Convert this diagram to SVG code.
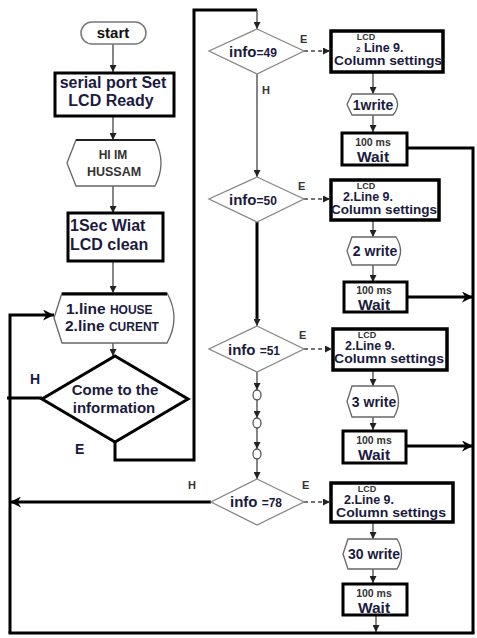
<svg xmlns="http://www.w3.org/2000/svg" width="477" height="638" viewBox="0 0 477 638">
<style>
text{font-family:"Liberation Sans",Arial,sans-serif;font-weight:bold;fill:#1b1b40}
.c{text-anchor:middle}
.sm{fill:#333}
.lcd{font-size:9px;fill:#333;text-anchor:middle}
.ln{font-size:12.5px}
.col{font-size:12.5px;text-anchor:middle}
.ms{font-size:10.5px;fill:#333;text-anchor:middle}
.wt{font-size:15.5px;text-anchor:middle}
.box{fill:#fff;stroke:#000;stroke-width:3}
.lbox{fill:#fff;stroke:#000;stroke-width:3.5}
.disp{fill:#fff;stroke:#666;stroke-width:1.3}
.dia{fill:#fff;stroke:#888;stroke-width:1.3}
.thin{fill:none;stroke:#444;stroke-width:1.3}
.dash{fill:none;stroke:#444;stroke-width:1.3;stroke-dasharray:4 3}
.thick{fill:none;stroke:#000;stroke-width:3}
</style>
<defs>
<marker id="a" viewBox="0 0 10 10" refX="10" refY="5" markerWidth="7" markerHeight="7" markerUnits="userSpaceOnUse" orient="auto"><path d="M0,0 L10,5 L0,10 z" fill="#222"/></marker>
<marker id="ab" viewBox="0 0 10 10" refX="10" refY="5" markerWidth="11" markerHeight="11" markerUnits="userSpaceOnUse" orient="auto"><path d="M0,0 L10,5 L0,10 L3,5 z" fill="#000"/></marker>
</defs>
<rect width="477" height="638" fill="#fff"/>

<g id="connectors">
<path class="thin" d="M113,44 V72" marker-end="url(#a)"/>
<path class="thin" d="M113,116 V140" marker-end="url(#a)"/>
<path class="thin" d="M113,186 V213" marker-end="url(#a)"/>
<path class="thin" d="M113,261 V293" marker-end="url(#a)"/>
<path class="thin" d="M113,343 V356" marker-end="url(#a)"/>
<path class="thick" d="M115,442 V460 H194 V10 H257"/>
<path class="thin" d="M257,10 V29" marker-end="url(#a)"/>
<path class="thin" d="M257,74 V177" marker-end="url(#a)"/>
<path class="thick" d="M257,222 V320"/>
<path class="thin" d="M257,318 V326" marker-end="url(#a)"/>
<path class="thin" d="M257,372 V390" marker-end="url(#a)"/>
<path class="thin" d="M257,400 V418" marker-end="url(#a)"/>
<path class="thin" d="M257,428 V449" marker-end="url(#a)"/>
<path class="thin" d="M257,459 V479" marker-end="url(#a)"/>
<path class="dash" d="M304,51 H330" marker-end="url(#a)"/>
<path class="dash" d="M304,199 H330" marker-end="url(#a)"/>
<path class="dash" d="M304,349 H332" marker-end="url(#a)"/>
<path class="dash" d="M304,502 H330" marker-end="url(#a)"/>
<path class="thin" d="M373,72 V94" marker-end="url(#a)"/>
<path class="thin" d="M373,115 V132" marker-end="url(#a)"/>
<path class="thin" d="M373,220 V237" marker-end="url(#a)"/>
<path class="thin" d="M373,265 V282" marker-end="url(#a)"/>
<path class="thin" d="M373,370 V386" marker-end="url(#a)"/>
<path class="thin" d="M373,417 V430" marker-end="url(#a)"/>
<path class="thin" d="M373,522 V539" marker-end="url(#a)"/>
<path class="thin" d="M373,569 V583" marker-end="url(#a)"/>
<path class="thin" d="M376,615 V632" marker-end="url(#a)"/>
<path class="thick" d="M42,398 H7"/>
<path class="thick" d="M10,633 V315 H54" marker-end="url(#ab)"/>
<path class="thick" d="M8.5,633 H474.5"/>
<path class="thick" d="M407,148 H473 V633"/>
<path class="thick" d="M407,297 H473" marker-end="url(#ab)"/>
<path class="thick" d="M406,446 H473" marker-end="url(#ab)"/>
<path class="thick" d="M211,502 H10" marker-end="url(#ab)"/>
</g>

<g id="start">
<rect x="81" y="22" width="65" height="22" rx="11" fill="#fff" stroke="#777" stroke-width="1.5"/>
<text class="c" x="113" y="38" font-size="15" style="fill:#111">start</text>
</g>

<g id="serial">
<rect class="box" x="55" y="73" width="119" height="43"/>
<text class="c" x="113" y="88" font-size="16">serial port Set</text>
<text class="c" x="111" y="106" font-size="16">LCD Ready</text>
</g>

<g id="hiim">
<path class="disp" d="M76,140 H155 Q167,163 155,186 H76 L67,163 Z"/>
<path d="M76,140 H155" stroke="#222" stroke-width="1.8"/>
<text class="c sm" x="113" y="159" font-size="12">HI IM</text>
<text class="c sm" x="114" y="176" font-size="12.5">HUSSAM</text>
</g>

<g id="wiat">
<rect class="box" x="68" y="213" width="95" height="48"/>
<text x="70" y="231" font-size="16">1Sec Wiat</text>
<text x="70" y="250" font-size="16">LCD clean</text>
</g>

<g id="lines">
<path class="disp" d="M62,293 H167 Q181,318 167,343 H62 L54,318 Z"/>
<path d="M62,294 H167" stroke="#000" stroke-width="3"/>
<text x="66" y="314" font-size="15.5">1.line <tspan font-size="12">HOUSE</tspan></text>
<text x="65" y="331" font-size="15.5">2.line <tspan font-size="12">CURENT</tspan></text>
</g>

<g id="come">
<path d="M115,356 L188,399 L115,442 L42,399 Z" fill="#fff" stroke="#000" stroke-width="3"/>
<text class="c" x="115" y="395" font-size="15">Come to the</text>
<text class="c" x="114" y="413" font-size="15">information</text>
<text x="30" y="384" font-size="14">H</text>
<text x="75" y="454" font-size="14">E</text>
</g>

<g id="info49">
<path class="dia" d="M257,29 L304,51 L257,74 L209,51 Z"/>
<text x="229" y="57" font-size="15">info<tspan font-size="12">=49</tspan></text>
<text class="sm" x="300" y="43" font-size="11">E</text>
<text class="sm" x="262" y="94" font-size="11">H</text>
</g>
<g id="lcd1">
<rect class="lbox" x="331" y="31" width="112" height="41"/>
<text class="lcd" x="366" y="39.5">LCD</text>
<text class="ln" x="356" y="52"><tspan font-size="8">2</tspan> Line 9.</text>
<text class="col" x="388" y="65" textLength="108" lengthAdjust="spacingAndGlyphs">Column settings</text>
</g>
<g id="write1">
<path class="disp" d="M352,94 H393 Q402,104.5 393,115 H352 L347,104.5 Z"/>
<text class="c" x="373" y="110" font-size="14">1write</text>
</g>
<g id="wait1">
<rect class="box" x="342" y="133" width="65" height="32"/>
<text class="ms" x="373" y="145.5">100 ms</text>
<text class="wt" x="373" y="162">Wait</text>
</g>

<g id="info50">
<path class="dia" d="M257,177 L304,199 L257,222 L209,199 Z"/>
<text x="229" y="205" font-size="15">info<tspan font-size="12">=50</tspan></text>
<text class="sm" x="298" y="190" font-size="11">E</text>
</g>
<g id="lcd2">
<rect class="lbox" x="331" y="180" width="108" height="40"/>
<text class="lcd" x="366" y="188.5">LCD</text>
<text class="ln" x="343" y="201">2.Line 9.</text>
<text class="col" x="384" y="214" textLength="106" lengthAdjust="spacingAndGlyphs">Column settings</text>
</g>
<g id="write2">
<path class="disp" d="M352,237 H396 Q405,251 396,265 H352 L347,251 Z"/>
<text class="c" x="375" y="256" font-size="14">2 write</text>
</g>
<g id="wait2">
<rect class="box" x="344" y="282" width="63" height="30"/>
<text class="ms" x="374" y="293.5">100 ms</text>
<text class="wt" x="374" y="309.5">Wait</text>
</g>

<g id="info51">
<path class="dia" d="M257,326 L304,349 L257,372 L209,349 Z"/>
<text x="228" y="355" font-size="15">info <tspan font-size="12">=51</tspan></text>
<text class="sm" x="299" y="339" font-size="11">E</text>
</g>
<g id="lcd3">
<rect class="lbox" x="333" y="329" width="114" height="41"/>
<text class="lcd" x="367" y="337.5">LCD</text>
<text class="ln" x="345" y="350">2.Line 9.</text>
<text class="col" x="389" y="363" textLength="110" lengthAdjust="spacingAndGlyphs">Column settings</text>
</g>
<g id="write3">
<path class="disp" d="M352,386 H394 Q403,401.5 394,417 H352 L347,401.5 Z"/>
<text class="c" x="374" y="407" font-size="14">3 write</text>
</g>
<g id="wait3">
<rect class="box" x="343" y="431" width="63" height="32"/>
<text class="ms" x="374" y="443.5">100 ms</text>
<text class="wt" x="374" y="460">Wait</text>
</g>

<g id="dot1"><ellipse cx="257" cy="395" rx="4" ry="5" fill="#fff" stroke="#555" stroke-width="1.3"/></g>
<g id="dot2"><ellipse cx="257" cy="423" rx="4" ry="5" fill="#fff" stroke="#555" stroke-width="1.3"/></g>
<g id="dot3"><ellipse cx="257" cy="454" rx="4" ry="5" fill="#fff" stroke="#555" stroke-width="1.3"/></g>

<g id="info78">
<path class="dia" d="M257,479 L304,502 L257,525 L211,502 Z"/>
<text x="230" y="507" font-size="15">info <tspan font-size="12">=78</tspan></text>
<text class="sm" x="302" y="489" font-size="11">E</text>
<text class="sm" x="188" y="489" font-size="11">H</text>
</g>
<g id="lcd4">
<rect class="lbox" x="331" y="483" width="122" height="39"/>
<text class="lcd" x="367" y="491.5">LCD</text>
<text class="ln" x="344" y="504">2.Line 9.</text>
<text class="col" x="391" y="517" textLength="110" lengthAdjust="spacingAndGlyphs">Column settings</text>
</g>
<g id="write30">
<path class="disp" d="M348,539 H397 Q406,554 397,569 H348 L343,554 Z"/>
<text class="c" x="374" y="559" font-size="14">30 write</text>
</g>
<g id="wait4">
<rect class="box" x="343" y="584" width="64" height="31"/>
<text class="ms" x="374" y="596.5">100 ms</text>
<text class="wt" x="374" y="613">Wait</text>
</g>
</svg>
